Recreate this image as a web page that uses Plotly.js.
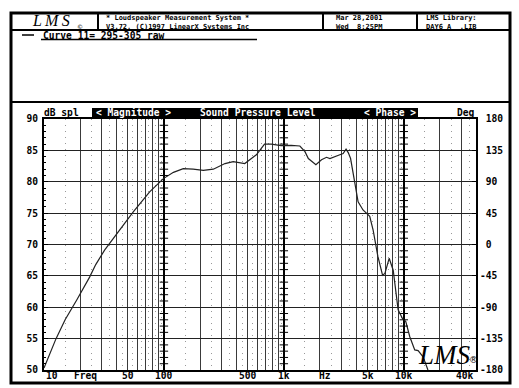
<!DOCTYPE html>
<html>
<head>
<meta charset="utf-8">
<script src="https://cdn.plot.ly/plotly-3.0.1.min.js"></script>
<style>html,body{margin:0;padding:0;background:#fff;}#chart{width:519px;height:388px;}</style>
</head>
<body>
<div id="chart"></div>
<script>
// ---- data ----
const freqHz = [10, 11, 12.6, 15, 17.1, 18.8, 24, 27, 32, 43, 55.5, 76, 99, 120, 145, 175, 213, 258, 323, 378, 472, 590, 690, 786, 950, 1150, 1360, 1500, 1600, 1850, 2060, 2270, 2420, 2930, 3120, 3300, 3450, 3600, 3880, 4160, 4570, 5200, 5550, 6080, 6650, 6960, 7550, 8160, 8970, 9750, 10390, 11220, 12340, 13160, 14480, 15900];
const splDb = [50.3, 52.2, 55, 58, 60, 61.2, 64.8, 66.8, 69.1, 72.3, 75.2, 78.4, 80.5, 81.5, 82.1, 82.0, 81.8, 82.0, 82.9, 83.2, 82.9, 84.3, 86.0, 86.0, 85.75, 85.8, 85.7, 84.8, 83.7, 82.7, 83.5, 83.9, 83.7, 84.3, 84.5, 85.2, 84.6, 83.7, 80.3, 76.8, 75.5, 74.5, 72.3, 68.1, 65.1, 65.4, 67.8, 65.9, 59.6, 58.2, 57.7, 55.3, 53.2, 53.1, 52.1, 50.0];

const xTickVals = [10, 20, 50, 100, 500, 1000, 2000, 5000, 10000, 40000];
const xTickText = ['10', 'Freq', '50', '100', '500', '1k', 'Hz', '5k', '10k', '40k'];
const dbTicks = [50, 55, 60, 65, 70, 75, 80, 85, 90];
const phaseTicks = [-180, -135, -90, -45, 0, 45, 90, 135, 180];
const decades = [10, 100, 1000, 10000];
const multipliers = [1, 2, 3, 4, 5, 6, 7, 8, 9];
const halfMultipliers = [1.5, 2.5, 3.5, 4.5, 5.5, 6.5, 7.5, 8.5, 9.5];

const headerSystem = ['* Loudspeaker Measurement System *', 'V3.72, (C)1997 LinearX Systems Inc'];
const headerDate = ['Mar 28,2001', 'Wed  8:25PM'];
const headerLibrary = ['LMS Library:', 'DAY6_A  .LIB'];
const curveLabel = 'Curve 11= 295-305 raw';

// ---- derived grid values ----
const FMAX = 40000;
const intVals = [], halfVals = [];
decades.forEach(d => {
  multipliers.forEach(m => { if (d * m <= FMAX) intVals.push(d * m); });
  halfMultipliers.forEach(m => { if (d * m <= FMAX) halfVals.push(d * m); });
});
intVals.push(FMAX);
const crossX = [], crossY = [];
decades.slice(1).forEach(d => {
  for (let v = 50; v <= 90; v++) { if (v % 5 !== 0) { crossX.push(d); crossY.push(v); } }
});

// ---- layout helpers (pixel -> paper) ----
const L = 44, T = 119, W = 432, H = 251;
const PX = px => (px - L) / W;
const PY = py => (T + H - py) / H;
const sp = s => s.replace(/ /g, '\u00A0');
const MONO = 'DejaVu Sans Mono';
const fnt = (size, color) => ({family: MONO, size: size, color: color || '#000', weight: 700});

function line(x0, y0, x1, y1, w) {
  return {type: 'line', xref: 'paper', yref: 'paper', x0: PX(x0), y0: PY(y0), x1: PX(x1), y1: PY(y1),
          line: {color: '#000', width: w || 1}, layer: 'above'};
}
function txt(text, x, y, anchor, size, color, extra) {
  return Object.assign({xref: 'paper', yref: 'paper', x: PX(x), y: PY(y), text: text, showarrow: false,
          xanchor: anchor || 'left', yanchor: 'middle', align: 'left', font: fnt(size || 10, color)}, extra || {});
}
const two = arr => arr.map(sp).join('<br>');

const shapes = [
  {type: 'rect', xref: 'paper', yref: 'paper', x0: PX(11), y0: PY(13), x1: PX(510), y1: PY(383), line: {color: '#000', width: 3}, layer: 'above'},
  line(11, 30, 510, 30, 2),
  line(98, 13, 98, 30, 2),
  line(323, 13, 323, 30, 2),
  line(417, 13, 417, 30, 2),
  line(11, 102, 510, 102, 2),
  line(22, 35, 34, 35, 1.5),
  line(41, 39.5, 257, 39.5, 1.5),
  {type: 'rect', xref: 'paper', yref: 'paper', x0: PX(92), y0: PY(108), x1: PX(418), y1: PY(117), fillcolor: '#000', line: {width: 0}, layer: 'above'}
];

const annotations = [
  {xref: 'paper', yref: 'paper', x: PX(30), y: PY(21), text: '<i>L\u2009M\u2009S</i>', showarrow: false, xanchor: 'left', yanchor: 'middle',
   font: {family: 'Liberation Serif', size: 16, color: '#000'}},
  {xref: 'paper', yref: 'paper', x: PX(75), y: PY(26), text: '©', showarrow: false, xanchor: 'left', yanchor: 'middle',
   font: {family: 'DejaVu Sans', size: 6, color: '#000'}},
  txt(two(headerSystem), 104, 22.8, 'left', 7),
  txt(two(headerDate), 334, 22.8, 'left', 7),
  txt(two(headerLibrary), 424, 22.8, 'left', 7),
  txt(sp(curveLabel), 41, 35.5, 'left', 9.6),
  txt(sp('dB spl'), 42, 112.5, 'left', 9.6),
  txt(sp('< Magnitude >'), 94, 112.5, 'left', 9.6, '#fff'),
  txt(sp('Sound Pressure Level'), 198, 112.5, 'left', 9.6, '#fff'),
  txt(sp('< Phase >'), 362, 112.5, 'left', 9.6, '#fff'),
  txt('Deg', 477, 112.5, 'right', 9.6),
  {xref: 'paper', yref: 'paper', x: PX(416), y: PY(355), text: '<i>LMS</i>', showarrow: false, xanchor: 'left', yanchor: 'middle',
   font: {family: 'Liberation Serif', size: 27, color: '#000'}},
  {xref: 'paper', yref: 'paper', x: PX(467), y: PY(360), text: '®', showarrow: false, xanchor: 'left', yanchor: 'middle',
   font: {family: 'DejaVu Sans', size: 9, color: '#000'}}
];
xTickVals.forEach((v, i) => {
  const first = i === 0, last = i === xTickVals.length - 1;
  const shift = (xTickText[i] === 'Freq' || xTickText[i] === 'Hz') ? 5 : 0;
  annotations.push({xref: 'x', yref: 'paper', x: Math.log10(v), y: PY(375.5), text: xTickText[i], showarrow: false,
    xanchor: first ? 'left' : (last ? 'right' : 'center'), yanchor: 'middle', xshift: shift, font: fnt(9.6)});
});

const traces = [
  {x: freqHz, y: splDb, type: 'scatter', mode: 'lines', line: {color: '#222', width: 1.2}, hoverinfo: 'skip', showlegend: false},
  {x: crossX, y: crossY, type: 'scatter', mode: 'markers', xaxis: 'x2', yaxis: 'y',
   marker: {symbol: 'line-ew', size: 6, line: {color: '#000', width: 1}}, hoverinfo: 'skip', showlegend: false},
  {x: [10], y: [null], type: 'scatter', mode: 'lines', yaxis: 'y2', hoverinfo: 'skip', showlegend: false}
];

const layout = {
  width: 519, height: 388,
  margin: {l: L, r: 519 - L - W, t: T, b: 388 - T - H, pad: 0},
  paper_bgcolor: '#fff', plot_bgcolor: '#fff',
  showlegend: false,
  xaxis: {type: 'log', range: [1, Math.log10(FMAX)], tickmode: 'array', tickvals: intVals, showticklabels: false,
          ticks: '', showgrid: true, gridcolor: '#3a3a3a', gridwidth: 1, zeroline: false,
          showline: true, linecolor: '#000', linewidth: 2, mirror: true,
          minor: {tickmode: 'array', tickvals: halfVals, showgrid: true, gridcolor: '#999', gridwidth: 1, griddash: '1px,5px', ticks: ''}},
  xaxis2: {type: 'log', range: [1, Math.log10(FMAX)], overlaying: 'x', tickmode: 'array', tickvals: decades,
           showticklabels: false, ticks: '', showgrid: true, gridcolor: '#000', gridwidth: 2, zeroline: false, showline: false},
  yaxis: {range: [50, 90], tickmode: 'array', tickvals: dbTicks, ticks: 'inside', ticklen: 4, tickcolor: '#000',
          showgrid: true, gridcolor: '#222', gridwidth: 1, zeroline: false,
          showline: true, linecolor: '#000', linewidth: 2, mirror: true,
          tickfont: fnt(9.6), ticklabelstandoff: 2,
          minor: {tickmode: 'linear', tick0: 50, dtick: 1, ticks: 'inside', ticklen: 2, tickcolor: '#000', showgrid: false}},
  yaxis2: {range: [-180, 180], overlaying: 'y', side: 'right', tickmode: 'array', tickvals: phaseTicks,
           ticktext: phaseTicks.map(v => (v >= 0 ? '\u00A0' : '') + String(v)),
           ticks: 'inside', ticklen: 4, tickcolor: '#000', showgrid: false, zeroline: false, showline: false,
           tickfont: fnt(9.6), ticklabelstandoff: 3},
  shapes: shapes,
  annotations: annotations
};

Plotly.newPlot('chart', traces, layout, {staticPlot: true, displayModeBar: false});
</script>
</body>
</html>
